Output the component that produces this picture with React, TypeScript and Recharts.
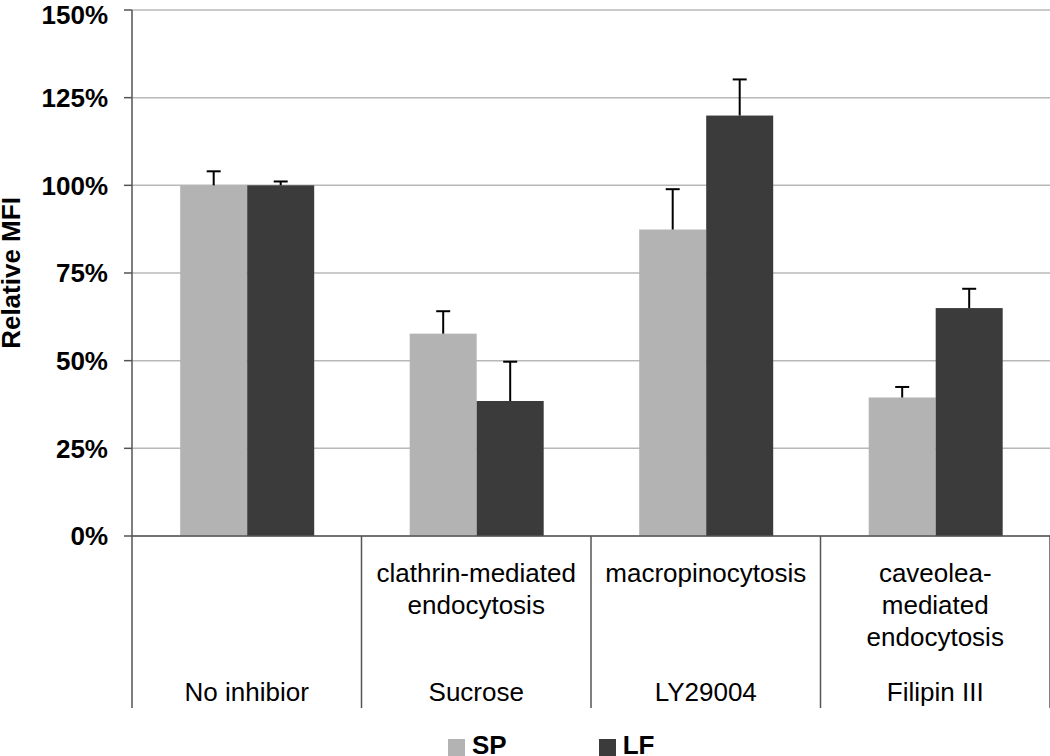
import React from 'react';
import { BarChart, Bar, XAxis, YAxis, CartesianGrid, Legend } from 'recharts';

const inhibitors = ['No inhibior', 'Sucrose', 'LY29004', 'Filipin III'];
const pathways = [[], ['clathrin-mediated', 'endocytosis'], ['macropinocytosis'], ['caveolea-', 'mediated', 'endocytosis']];
const spValues = [100, 57.7, 87.4, 39.5];
const spErrors = [4.0, 6.4, 11.5, 3.0];
const lfValues = [100, 38.5, 119.9, 65.0];
const lfErrors = [1.1, 11.2, 10.3, 5.5];
const yTicks = [0, 25, 50, 75, 100, 125, 150];
const seriesOrder = ['SP', 'LF'];

const data = inhibitors.map((name, i) => ({
  name,
  sp: spValues[i],
  spErr: spErrors[i],
  lf: lfValues[i],
  lfErr: lfErrors[i],
}));

const FONT = '"Liberation Sans", Arial, Helvetica, sans-serif';
const AXIS = '#555555';

// bar + upward-only whisker, whisker length scaled from the bar's own px/unit
const barWithError = (valueKey: string, errKey: string) => (props: any) => {
  const { x, y, width, height, fill, payload } = props;
  const pxPerUnit = height / payload[valueKey];
  const top = y - payload[errKey] * pxPerUnit;
  const cx = x + width / 2;
  return (
    <g>
      <rect x={x} y={y} width={width} height={height} fill={fill} />
      <line x1={cx} y1={y} x2={cx} y2={top} stroke="#000" strokeWidth={2} />
      <line x1={cx - 7} y1={top} x2={cx + 7} y2={top} stroke="#000" strokeWidth={2} />
    </g>
  );
};

const CategoryTick = (props: any) => {
  const { x, y, payload, index, width, visibleTicksCount } = props;
  const half = payload.offset || width / visibleTicksCount / 2;
  const lines = pathways[index] || [];
  const isLast = index === visibleTicksCount - 1;
  return (
    <g>
      <line x1={x - half} y1={y} x2={x - half} y2={y + 172} stroke={AXIS} strokeWidth={1.5} />
      {isLast && <line x1={x + half} y1={y} x2={x + half} y2={y + 172} stroke={AXIS} strokeWidth={1.5} />}
      {lines.map((t: string, i: number) => (
        <text key={i} x={x} y={y + 46 + i * 32} textAnchor="middle" fontSize={26} fontFamily={FONT} fill="#000">
          {t}
        </text>
      ))}
      <text x={x} y={y + 165} textAnchor="middle" fontSize={26} fontFamily={FONT} fill="#000">
        {payload.value}
      </text>
    </g>
  );
};

const renderLegend = (props: any) => {
  const items = [...(props.payload || [])].sort(
    (a: any, b: any) => seriesOrder.indexOf(a.value) - seriesOrder.indexOf(b.value)
  );
  return (
    <div style={{ display: 'flex', fontFamily: FONT, fontSize: 26, fontWeight: 700, lineHeight: '30px', color: '#000' }}>
      {items.map((entry: any, i: number) => (
        <div key={entry.value} style={{ display: 'flex', alignItems: 'flex-start', marginRight: i === 0 ? 92 : 0 }}>
          <span style={{ display: 'inline-block', width: 17, height: 17, background: entry.color, marginTop: 9, marginRight: 7 }} />
          <span>{entry.value}</span>
        </div>
      ))}
    </div>
  );
};

const App = () => {
  return (
    <div style={{ position: 'absolute', left: 0, top: 0, width: 1050, height: 756, overflow: 'hidden', background: '#fff' }}>
      <BarChart width={1050} height={756} data={data} margin={{ top: 10, right: 0, left: 0, bottom: 0 }} barCategoryGap="21%" barGap={0}>
        <CartesianGrid vertical={false} stroke="#b8b8b8" strokeWidth={1.5} />
        <XAxis
          dataKey="name"
          height={220}
          tickSize={0}
          tickMargin={0}
          tickLine={false}
          axisLine={{ stroke: AXIS, strokeWidth: 1.5 }}
          tick={<CategoryTick />}
          interval={0}
        />
        <YAxis
          width={132}
          domain={[0, 150]}
          ticks={yTicks}
          tickFormatter={(v: number) => `${v}%`}
          tickSize={8}
          tickMargin={16}
          tickLine={{ stroke: AXIS, strokeWidth: 1.5 }}
          axisLine={{ stroke: AXIS, strokeWidth: 1.5 }}
          tick={{ fill: '#000', fontSize: 26, fontWeight: 700, fontFamily: FONT }}
          label={{
            value: 'Relative MFI',
            content: (p: any) => {
              const vb = p.viewBox;
              const cy = vb.y + vb.height / 2;
              return (
                <text x={20} y={cy} transform={`rotate(-90, 20, ${cy})`} textAnchor="middle" fontSize={26} fontWeight={700} fontFamily={FONT} fill="#000">
                  Relative MFI
                </text>
              );
            },
          }}
        />
        <Legend verticalAlign="middle" align="center" layout="horizontal" wrapperStyle={{ left: 448, top: 730, width: 'auto' }} content={renderLegend} />
        <Bar dataKey="sp" name="SP" fill="#b3b3b3" isAnimationActive={false} shape={barWithError('sp', 'spErr')} />
        <Bar dataKey="lf" name="LF" fill="#3b3b3b" isAnimationActive={false} shape={barWithError('lf', 'lfErr')} />
      </BarChart>
    </div>
  );
};

export default App;
